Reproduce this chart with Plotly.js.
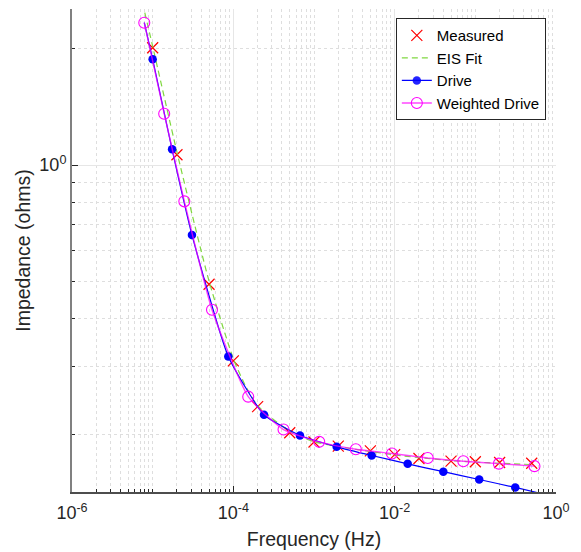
<!DOCTYPE html>
<html>
<head>
<meta charset="utf-8">
<script src="https://cdn.plot.ly/plotly-3.0.1.min.js"></script>
<style>html,body{margin:0;padding:0;background:#fff;}#chart{width:581px;height:552px;}</style>
</head>
<body>
<div id="chart"></div>
<script>
// Measured points
const measFreq = [1e-5, 2e-5, 5e-5, 1e-4, 2e-4, 5e-4, 1e-3, 2e-3, 5e-3, 1e-2, 2e-2, 5e-2, 0.1, 0.2, 0.5];
const measZ    = [2.013, 1.063, 0.491, 0.311, 0.2366, 0.2025, 0.1916, 0.187, 0.1818, 0.1777, 0.1737, 0.1709, 0.1703, 0.1696, 0.1688];

// EIS fit curve
const fitFreq = [7e-6, 1e-5, 2e-5, 5e-5, 1e-4, 1.4e-4, 2e-4, 5e-4, 1e-3, 2e-3, 5e-3, 1e-2, 2e-2, 5e-2, 0.1, 0.2, 0.5];
const fitZ    = [2.79, 2.03, 1.08, 0.50, 0.315, 0.269, 0.238, 0.204, 0.192, 0.1865, 0.181, 0.1775, 0.1745, 0.1715, 0.170, 0.1688, 0.1675];

// Drive (first and last entries are line ends without markers)
const driveFreq = [7.87e-6, 1e-5, 1.74e-5, 3.07e-5, 8.66e-5, 2.4e-4, 6.7e-4, 1.91e-3, 5.19e-3, 0.0145, 0.0401, 0.1117, 0.3126, 1.0];
const driveZ    = [2.337, 1.878, 1.098, 0.659, 0.3193, 0.2254, 0.1992, 0.1862, 0.1768, 0.1682, 0.1605, 0.1532, 0.1461, 0.138];
const driveMarked = [0,1,1,1,1,1,1,1,1,1,1,1,1,0];

// Weighted drive
const wFreq = [7.87e-6, 1.39e-5, 2.47e-5, 5.44e-5, 1.53e-4, 4.19e-4, 1.16e-3, 3.30e-3, 9.26e-3, 0.0257, 0.071, 0.196, 0.541];
const wZ    = [2.337, 1.358, 0.805, 0.4218, 0.2511, 0.2064, 0.1918, 0.1835, 0.1789, 0.1742, 0.1708, 0.1684, 0.1659];

const xTickVals = [1e-6, 1e-4, 1e-2, 1];
const xTickText = ['10<sup>-6</sup>', '10<sup>-4</sup>', '10<sup>-2</sup>', '10<sup>0</sup>'];
const yTickVals = [1];
const yTickText = ['10<sup>0</sup>'];

// minor tick positions (axis styling)
const xMinor = [];
for (let e = -6; e < 0; e++) for (let d = 1; d <= 9; d++) { const v = d * Math.pow(10, e); if (!(d === 1 && e % 2 === 0)) xMinor.push(v); }
const yMinor = [];
for (let e = -1; e <= 0; e++) for (let d = 1; d <= 9; d++) { const v = d * Math.pow(10, e); if (!(d === 1 && e === 0)) yMinor.push(v); }

const traces = [
  { x: measFreq, y: measZ, name: 'Measured', mode: 'markers', type: 'scatter',
    marker: { symbol: 'x-thin-open', size: 11, color: '#ff0000', line: { color: '#ff0000', width: 1.2 } } },
  { x: fitFreq, y: fitZ, name: 'EIS Fit', mode: 'lines', type: 'scatter',
    line: { color: '#80d840', width: 1.2, dash: '6px,4px', shape: 'spline', smoothing: 0.6 } },
  { x: driveFreq, y: driveZ, name: 'Drive', mode: 'lines+markers', type: 'scatter',
    line: { color: '#0000ff', width: 1.2, shape: 'spline', smoothing: 0.5 },
    marker: { symbol: 'circle', size: 8.5, opacity: driveMarked, color: '#0000ff' } },
  { x: wFreq, y: wZ, name: 'Weighted Drive', mode: 'lines+markers', type: 'scatter',
    line: { color: 'rgba(255,0,255,0.72)', width: 1.4, shape: 'spline', smoothing: 0.5 },
    marker: { symbol: 'circle-open', size: 11, color: '#ff00ff', line: { color: '#ff00ff', width: 1.1 } } }
];

const FF = 'Liberation Sans, Arial, sans-serif';
const font = { family: FF, color: '#262626' };

const layout = {
  width: 581, height: 552,
  margin: { l: 72, r: 25, t: 9, b: 60 },
  paper_bgcolor: '#ffffff', plot_bgcolor: '#ffffff',
  font: font,
  showlegend: true,
  legend: {
    x: 0.979, y: 0.981, xanchor: 'right', yanchor: 'top',
    bgcolor: '#ffffff', bordercolor: '#262626', borderwidth: 1,
    font: { family: FF, size: 15, color: '#000000' },
    tracegroupgap: 0
  },
  xaxis: {
    type: 'log', range: [-6, 0],
    tickmode: 'array', tickvals: xTickVals, ticktext: xTickText,
    tickfont: { size: 18, family: FF, color: '#262626' },
    ticklabelstandoff: 4,
    ticks: 'inside', ticklen: 6, tickcolor: '#262626',
    showline: true, linecolor: '#4d4d4d', linewidth: 1.5, mirror: false,
    showgrid: true, gridcolor: '#e6e6e6', gridwidth: 1,
    zeroline: false,
    minor: { tickmode: 'array', tickvals: xMinor, ticks: 'inside', ticklen: 3, tickcolor: '#262626',
             showgrid: true, gridcolor: '#dedede', griddash: 'dot', gridwidth: 1 },
    title: { text: 'Frequency (Hz)', font: { size: 19.5, family: FF, color: '#262626' }, standoff: 10 }
  },
  yaxis: {
    type: 'log', range: [Math.log10(0.1422), Math.log10(2.536)],
    tickmode: 'array', tickvals: yTickVals, ticktext: yTickText,
    tickfont: { size: 18, family: FF, color: '#262626' },
    ticks: 'inside', ticklen: 6, tickcolor: '#262626',
    showline: true, linecolor: '#808080', linewidth: 2, mirror: false,
    showgrid: true, gridcolor: '#e6e6e6', gridwidth: 1,
    zeroline: false,
    minor: { tickmode: 'array', tickvals: yMinor, ticks: 'inside', ticklen: 3, tickcolor: '#262626',
             showgrid: true, gridcolor: '#dedede', griddash: 'dot', gridwidth: 1 },
    title: { text: 'Impedance (ohms)', font: { size: 19.5, family: FF, color: '#262626' }, standoff: 4 }
  }
};

Plotly.newPlot('chart', traces, layout, { displayModeBar: false, staticPlot: true });
</script>
</body>
</html>
